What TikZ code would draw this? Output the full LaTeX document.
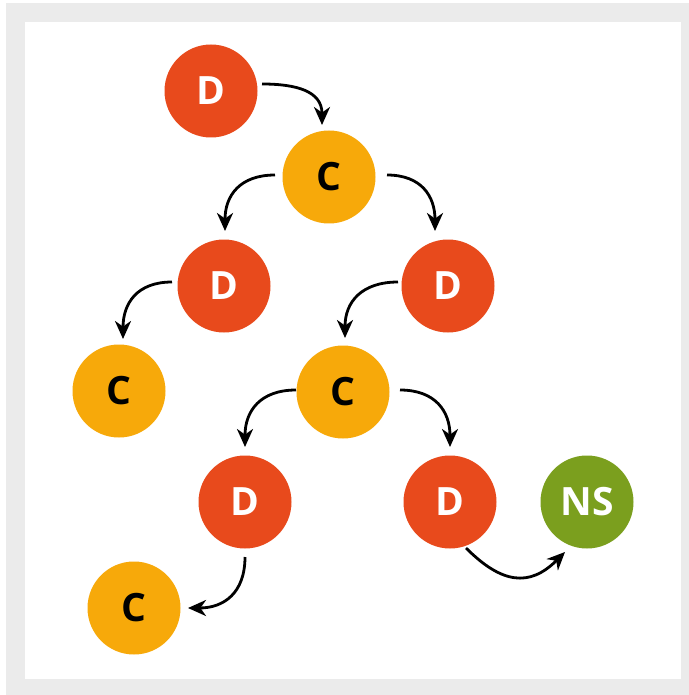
\documentclass[tikz,border=0pt]{standalone}
\usepackage{fontspec}
\setmainfont{Open Sans}
\usetikzlibrary{arrows.meta}
\definecolor{dred}{RGB}{232,74,28}
\definecolor{corange}{RGB}{247,169,10}
\definecolor{nsgreen}{RGB}{123,159,30}
\definecolor{framegray}{RGB}{235,235,235}
\begin{document}
\begin{tikzpicture}[x=0.5pt,y=0.5pt,
		state/.style={circle,minimum size=46.5pt,inner sep=0pt,font=\fontsize{19.5}{19.5}\selectfont\bfseries},
		dnode/.style={state,fill=dred,text=white},
		cnode/.style={state,fill=corange,text=black},
		nsnode/.style={state,fill=nsgreen,text=white},
		->/.style={draw,line width=1.4pt,-{Stealth[length=9pt,width=8pt,inset=2.8pt]}}]
			\useasboundingbox (0,0) rectangle (689,-695);
			\fill[framegray] (6,-3) rectangle (689,-695);
			\fill[white] (25,-22) rectangle (681,-679);
			\node[dnode] (d1) at (211,-91) {D};
			\node[cnode] (c1) at (329,-177) {C};
			\node[dnode] (d2) at (224,-286) {D};
			\node[dnode] (d3) at (448,-286) {D};
			\node[cnode] (c2) at (119,-391) {C};
			\node[cnode] (c3) at (343,-392) {C};
			\node[dnode] (d4) at (245,-502) {D};
			\node[dnode] (d5) at (450,-502) {D};
			\node[nsnode] (ns) at (587,-502) {NS};
			\node[cnode] (c4) at (134,-608) {C};
			\draw[->] ([shift={(51,7)}]d1.center) to[out=0,in=90,looseness=1.2] ([shift={(-7,52)}]c1.center);
			\draw[->] ([shift={(-54,2)}]c1.center) to[out=180,in=90,looseness=1.2] ([shift={(1,55)}]d2.center);
			\draw[->] ([shift={(58,2)}]c1.center) to[out=0,in=90,looseness=1.2] ([shift={(-13,55)}]d3.center);
			\draw[->] ([shift={(-52,4)}]d2.center) to[out=180,in=90,looseness=1.2] ([shift={(4,52)}]c2.center);
			\draw[->] ([shift={(-50,4)}]d3.center) to[out=180,in=90,looseness=1.2] ([shift={(2,54)}]c3.center);
			\draw[->] ([shift={(-47,2)}]c3.center) to[out=180,in=90,looseness=1.2] ([shift={(0,55)}]d4.center);
			\draw[->] ([shift={(57,2)}]c3.center) to[out=0,in=90,looseness=1.2] ([shift={(0,55)}]d5.center);
			\draw[->] ([shift={(0,-55)}]d4.center) to[out=-90,in=0,looseness=1.2] ([shift={(54,0)}]c4.center);
			\draw[->] ([shift={(16,-46)}]d5.center) to[out=-45,in=-135,looseness=1.3] ([shift={(-22,-50)}]ns.center);
		\end{tikzpicture}
\end{document}
